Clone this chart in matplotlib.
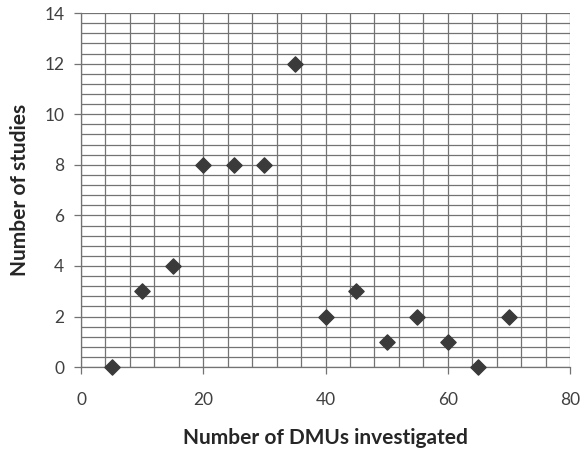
import matplotlib
matplotlib.use("Agg")
import matplotlib.pyplot as plt
import numpy as np

dmus = [5, 10, 15, 20, 25, 30, 35, 40, 45, 50, 55, 60, 65, 70]
studies = [0, 3, 4, 8, 8, 8, 12, 2, 3, 1, 2, 1, 0, 2]
x_ticks = [0, 20, 40, 60, 80]
y_ticks = [0, 2, 4, 6, 8, 10, 12, 14]

plt.rcParams['font.family'] = ['Lato', 'DejaVu Sans']

fig = plt.figure(figsize=(5.8, 4.51), dpi=100)
ax = fig.add_axes([0.1397, 0.186, 0.8433, 0.785])

ax.set_xlim(0, 80)
ax.set_ylim(0, 14)
ax.set_xticks(x_ticks)
ax.set_yticks(y_ticks)
ax.set_xticks(np.arange(0, 80.01, 4), minor=True)
ax.set_yticks(np.arange(0, 14.01, 0.4), minor=True)
ax.grid(True, which='both', color='#737373', linewidth=0.9)
ax.set_axisbelow(True)
ax.tick_params(which='minor', length=0)
ax.tick_params(which='major', length=5, width=0.9, color='#737373',
               labelsize=12.5, labelcolor='#404040', direction='out', pad=13)
ax.tick_params(axis='y', pad=7)
for s in ['top', 'right']:
    ax.spines[s].set_visible(False)
for s in ['left', 'bottom']:
    ax.spines[s].set_color('#737373')
    ax.spines[s].set_linewidth(0.9)

ax.scatter(dmus, studies, marker='D', s=60, color='#3a3a3a', zorder=3, clip_on=False)

ax.set_xlabel('Number of DMUs investigated', fontsize=15, fontweight='bold', color='#262626', labelpad=14)
ax.set_ylabel('Number of studies', fontsize=15, fontweight='bold', color='#262626', labelpad=10)

fig.savefig('out.png', dpi=100)
